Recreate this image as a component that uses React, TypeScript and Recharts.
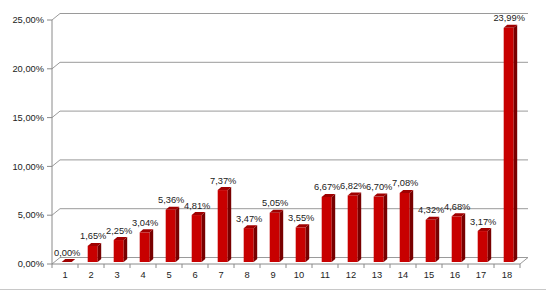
import React from 'react';
import { BarChart, Bar, XAxis, YAxis, CartesianGrid, LabelList } from 'recharts';

const categories = ['1', '2', '3', '4', '5', '6', '7', '8', '9', '10', '11', '12', '13', '14', '15', '16', '17', '18'];
const values = [0, 1.65, 2.25, 3.04, 5.36, 4.81, 7.37, 3.47, 5.05, 3.55, 6.67, 6.82, 6.7, 7.08, 4.32, 4.68, 3.17, 23.99];
const yTicks = [0, 5, 10, 15, 20, 25];

const data = categories.map((c, i) => ({ name: c, value: values[i] }));

const W = 546;
const H = 289;
const MARGIN = { top: 20, right: 26, bottom: 0, left: 0 };
const Y_AXIS_W = 52;
const X_AXIS_H = 25;
const PLOT_LEFT = MARGIN.left + Y_AXIS_W;
const PLOT_RIGHT = W - MARGIN.right;
const PLOT_BOTTOM = H - MARGIN.bottom - X_AXIS_H;
const BAND = (PLOT_RIGHT - PLOT_LEFT) / categories.length;

const DX = 8; // depth offset of the back wall
const DY = -6.5;
const BX = 1.7; // bar front-face shift
const BY = -2;
const BDX = 3.5; // bar depth
const BDY = -3;

const FONT = '"Liberation Sans", Arial, sans-serif';
const FS = 9.3;
const GRID = '#9a9a9a';
const AXIS = '#8a8a8a';
const TEXT = '#222';

const fmt = (v: number) => v.toFixed(2).replace('.', ',') + '%';

const GridLine = (props: any) => {
  const { x1, x2, y1 } = props;
  const y = y1;
  let d = `M${x1},${y} L${x1 + DX},${y + DY} L${x2 + DX},${y + DY}`;
  if (Math.abs(y - PLOT_BOTTOM) < 1) {
    d += ` M${x2},${y} L${x2 + DX},${y + DY}`;
  }
  return <path key={`g-${y}`} d={d} stroke={GRID} strokeWidth={1} fill="none" />;
};

const BarShape = (props: any) => {
  const { x, y, width, height } = props;
  if (x == null || y == null) return null;
  const h = Math.max(0, height || 0);
  const fx = x + BX;
  const fy = y + BY;
  const w = width;
  const side = `M${fx + w},${fy} L${fx + w + BDX},${fy + BDY} L${fx + w + BDX},${fy + h + BDY} L${fx + w},${fy + h} Z`;
  const top = `M${fx},${fy} L${fx + BDX},${fy + BDY} L${fx + w + BDX},${fy + BDY} L${fx + w},${fy} Z`;
  return (
    <g>
      {h > 0 && <rect x={fx} y={fy} width={w} height={h} fill="#c80000" />}
      {h > 0 && <path d={side} fill="#780000" />}
      <path d={top} fill="#a00000" />
    </g>
  );
};

const ValueLabel = (props: any) => {
  const { x, y, width, value } = props;
  return (
    <text
      x={x + width / 2 + BX + 0.5}
      y={y + BY + BDY - 3.5}
      textAnchor="middle"
      fontFamily={FONT}
      fontSize={FS}
      fill={TEXT}
    >
      {fmt(Number(value))}
    </text>
  );
};

const YTick = (props: any) => {
  const { x, y, payload } = props;
  return (
    <text x={x} y={y} dy="0.35em" textAnchor="end" fontFamily={FONT} fontSize={FS} fill={TEXT}>
      {fmt(Number(payload.value))}
    </text>
  );
};

const XTick = (props: any) => {
  const { x, y, payload, index } = props;
  const ax = PLOT_BOTTOM;
  return (
    <g>
      <line x1={x - BAND / 2} y1={ax} x2={x - BAND / 2} y2={ax + 4} stroke={AXIS} />
      {index === categories.length - 1 && (
        <line x1={x + BAND / 2} y1={ax} x2={x + BAND / 2} y2={ax + 4} stroke={AXIS} />
      )}
      <text x={x} y={y} dy="0.71em" textAnchor="middle" fontFamily={FONT} fontSize={FS} fill={TEXT}>
        {payload.value}
      </text>
    </g>
  );
};

export default function App() {
  return (
    <div
      style={{
        position: 'absolute',
        left: 0,
        top: 0,
        width: W,
        height: H,
        borderBottom: '1px solid #c8c8c8',
        background: '#fff',
      }}
    >
      <BarChart width={W} height={H} data={data} margin={MARGIN} barSize={10}>
        <CartesianGrid vertical={false} horizontal={GridLine} />
        <YAxis
          type="number"
          domain={[0, 25]}
          ticks={yTicks}
          width={Y_AXIS_W}
          axisLine={{ stroke: AXIS }}
          tickLine={{ stroke: AXIS }}
          tickSize={5}
          tickMargin={3}
          tick={YTick}
          interval={0}
        />
        <XAxis
          dataKey="name"
          height={X_AXIS_H}
          axisLine={{ stroke: AXIS }}
          tickLine={false}
          tickSize={4}
          tickMargin={3}
          tick={XTick}
          interval={0}
        />
        <Bar dataKey="value" shape={BarShape} isAnimationActive={false}>
          <LabelList dataKey="value" content={ValueLabel} />
        </Bar>
      </BarChart>
    </div>
  );
}
